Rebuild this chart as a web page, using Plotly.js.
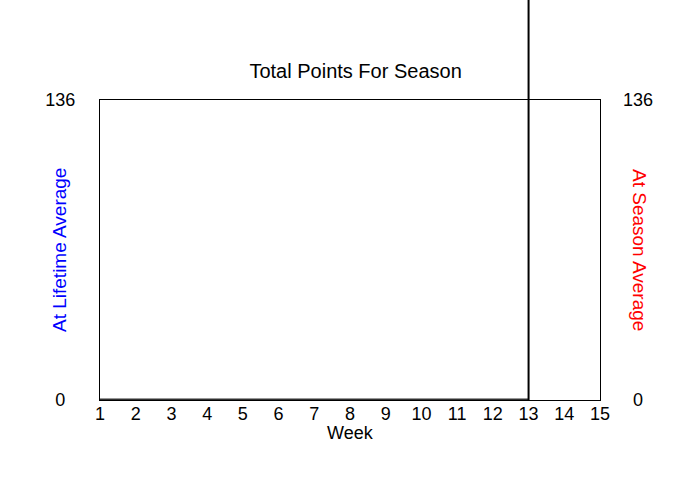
<!DOCTYPE html>
<html>
<head>
<meta charset="utf-8">
<script src="https://cdn.plot.ly/plotly-3.0.1.min.js"></script>
<style>
  body { margin: 0; background: #fff; }
  #graph { width: 700px; height: 500px; }
</style>
</head>
<body>
<div id="graph"></div>
<script>
// weeks played so far and the points for each
var weeks = [1, 2, 3, 4, 5, 6, 7, 8, 9, 10, 11, 12, 13];
var points = [0, 0, 0, 0, 0, 0, 0, 0, 0, 0, 0, 0, 0];
var currentWeek = 13;

var weekTicks = [1, 2, 3, 4, 5, 6, 7, 8, 9, 10, 11, 12, 13, 14, 15];
var pointTicks = [0, 136];
var leftTickText = ['0\u2007', '136'];
var rightTickText = ['\u20070', '136'];

var font = 'Liberation Sans, Arial, sans-serif';

var trace1 = {
  x: weeks,
  y: points,
  mode: 'lines',
  type: 'scatter',
  line: {color: '#303030', width: 3},
  hoverinfo: 'none'
};

var trace2 = {
  x: [weekTicks[0]],
  y: [0],
  yaxis: 'y2',
  mode: 'markers',
  type: 'scatter',
  marker: {size: 0, opacity: 0},
  hoverinfo: 'none'
};

var layout = {
  width: 700,
  height: 500,
  margin: {l: 100, r: 100, t: 100, b: 100},
  paper_bgcolor: '#fff',
  plot_bgcolor: '#fff',
  showlegend: false,
  font: {family: font, size: 18, color: '#000'},
  title: {
    text: 'Total Points For Season',
    font: {family: font, size: 20, color: '#000'},
    x: 0.508,
    xanchor: 'center',
    y: 1 - 71 / 500,
    yanchor: 'middle'
  },
  xaxis: {
    range: [weekTicks[0], weekTicks[weekTicks.length - 1]],
    tickvals: weekTicks,
    ticks: '',
    showgrid: false,
    zeroline: false,
    showline: true,
    mirror: true,
    linecolor: '#000',
    linewidth: 1,
    ticklabelstandoff: -3,
    tickfont: {size: 18}
  },
  yaxis: {
    range: [pointTicks[0], pointTicks[1]],
    tickvals: pointTicks,
    ticktext: leftTickText,
    ticks: '',
    showgrid: false,
    zeroline: false,
    showline: true,
    mirror: true,
    linecolor: '#000',
    linewidth: 1,
    ticklabelstandoff: 20,
    tickfont: {size: 18}
  },
  yaxis2: {
    range: [pointTicks[0], pointTicks[1]],
    tickvals: pointTicks,
    ticktext: rightTickText,
    overlaying: 'y',
    side: 'right',
    ticks: '',
    showgrid: false,
    zeroline: false,
    showline: false,
    ticklabelstandoff: 22,
    tickfont: {size: 18}
  },
  shapes: [{
    type: 'line',
    xref: 'x',
    yref: 'paper',
    x0: currentWeek,
    x1: currentWeek,
    y0: 0,
    y1: 1.34,
    line: {color: '#000', width: 2}
  }],
  annotations: [{
    text: 'Week',
    xref: 'paper',
    yref: 'paper',
    x: 0.5,
    y: (400 - 433) / 300,
    xanchor: 'center',
    yanchor: 'middle',
    showarrow: false,
    font: {size: 18, color: '#000'}
  }, {
    text: 'At Lifetime Average',
    xref: 'paper',
    yref: 'paper',
    x: -0.082,
    y: 0.5,
    xanchor: 'center',
    yanchor: 'middle',
    textangle: -90,
    showarrow: false,
    font: {size: 19, color: '#0000ff'}
  }, {
    text: 'At Season Average',
    xref: 'paper',
    yref: 'paper',
    x: 1.08,
    y: 0.5,
    xanchor: 'center',
    yanchor: 'middle',
    textangle: 90,
    showarrow: false,
    font: {size: 19, color: '#ff0000'}
  }]
};

Plotly.newPlot('graph', [trace1, trace2], layout, {displayModeBar: false, staticPlot: true});
</script>
</body>
</html>
